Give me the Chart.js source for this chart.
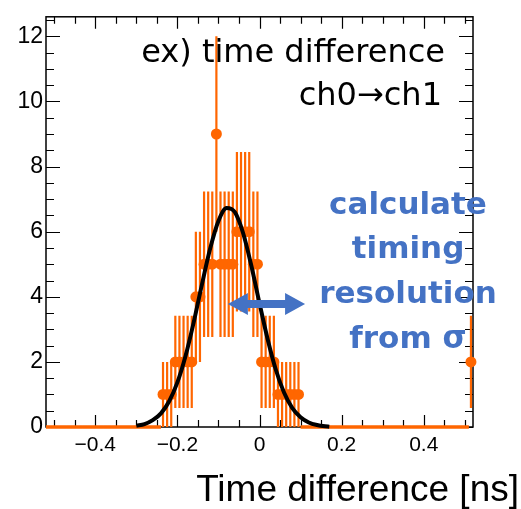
<!DOCTYPE html>
<html>
<head>
<meta charset="utf-8">
<script src="https://cdn.jsdelivr.net/npm/chart.js@4"></script>
<style>
  html, body { margin: 0; padding: 0; background: #fff; }
  #wrap { width: 521px; height: 509px; }
</style>
</head>
<body>
<div id="wrap"><canvas id="chart" width="521" height="509"></canvas></div>
<script>
// histogram: 104 bins of 0.01 ns from -0.52 to 0.52
const xRange = [-0.52, 0.52];
const binWidth = 0.01;
const counts = [
    0, 0, 0, 0, 0, 0, 0, 0, 0, 0,
    0, 0, 0, 0, 0, 0, 0, 0, 0, 0,
    0, 0, 0, 0, 0, 0, 0, 0, 1, 1,
    1, 2, 2, 2, 2, 2, 4, 4, 5, 5,
    5, 9, 5, 5, 5, 5, 6, 6, 6, 6,
    5, 5, 2, 2, 2, 2, 1, 1, 1, 1,
    1, 1, 0, 0, 0, 0, 0, 0, 0, 0,
    0, 0, 0, 0, 0, 0, 0, 0, 0, 0,
    0, 0, 0, 0, 0, 0, 0, 0, 0, 0,
    0, 0, 0, 0, 0, 0, 0, 0, 0, 0,
    0, 0, 0, 2
];

// gaussian fit curve
const curveX = [-0.30, -0.28, -0.26, -0.24, -0.22, -0.20, -0.18, -0.16, -0.14, -0.12,
                -0.10, -0.08, -0.06, -0.04, -0.02, 0.00, 0.02, 0.04, 0.06, 0.08,
                0.10, 0.12, 0.14, 0.16, 0.17];
const curveY = [0.04, 0.09, 0.21, 0.42, 0.79, 1.37, 2.19, 3.23, 4.39, 5.49,
                6.33, 6.73, 6.60, 5.96, 4.96, 3.80, 2.69, 1.75, 1.05, 0.58,
                0.30, 0.14, 0.06, 0.02, 0.01];

const xTickValues = [-0.4, -0.2, 0, 0.2, 0.4];
const yTickValues = [0, 2, 4, 6, 8, 10, 12];

const orange = '#ff6600';
const blue = '#4472c4';

// build the error bar / marker data from the counts
const centers = counts.map((c, i) => xRange[0] + binWidth * (i + 0.5));
const vertBars = [];
const horizBars = [];
const markers = [];
counts.forEach((c, i) => {
    const cx = centers[i];
    horizBars.push({ x: cx - binWidth / 2, y: c }, { x: cx + binWidth / 2, y: c }, { x: cx, y: null });
    if (c > 0) {
        const err = Math.sqrt(c);
        vertBars.push({ x: cx, y: c - err }, { x: cx, y: c + err }, { x: cx, y: null });
        markers.push({ x: cx, y: c });
    }
});

// ROOT style frame with inward ticks on all four sides
const framePlugin = {
    id: 'frame',
    beforeDatasetsDraw(chart) {
        const { ctx, chartArea: a, scales: { x, y } } = chart;
        ctx.save();
        ctx.strokeStyle = '#000';
        ctx.lineWidth = 1.5;
        ctx.strokeRect(a.left, a.top, a.right - a.left, a.bottom - a.top);
        ctx.lineWidth = 1.2;
        ctx.beginPath();
        for (let i = 0; i <= 25; i++) {
            const py = Math.round(y.getPixelForValue(i * 0.5)) + 0.5;
            const len = i % 4 === 0 ? 14 : 8;
            ctx.moveTo(a.left, py); ctx.lineTo(a.left + len, py);
            ctx.moveTo(a.right, py); ctx.lineTo(a.right - len, py);
        }
        for (let i = -10; i <= 10; i++) {
            const px = Math.round(x.getPixelForValue(i * 0.05)) + 0.5;
            const len = i % 4 === 0 ? 12 : 7;
            ctx.moveTo(px, a.bottom); ctx.lineTo(px, a.bottom - len);
            ctx.moveTo(px, a.top); ctx.lineTo(px, a.top + len);
        }
        ctx.stroke();
        ctx.restore();
    },
    afterDraw(chart) {
        const { ctx, scales: { x, y } } = chart;
        ctx.save();
        ctx.fillStyle = '#000';
        ctx.textBaseline = 'alphabetic';
        ctx.textAlign = 'right';
        ctx.font = '32px "DejaVu Sans"';
        ctx.fillText('ex) time difference', 445, 62);
        ctx.fillText('ch0\u2192ch1', 442, 105);

        ctx.font = '37px "Liberation Sans"';
        ctx.fillText('Time difference [ns]', 519, 501);

        ctx.fillStyle = blue;
        ctx.textAlign = 'center';
        ctx.font = 'bold 31px "DejaVu Sans"';
        ctx.fillText('calculate', 408, 214);
        ctx.fillText('timing', 408, 258);
        ctx.fillText('resolution', 408, 303);
        ctx.fillText('from \u03c3', 408, 348);

        // double headed arrow
        const x1 = x.getPixelForValue(-0.077);
        const x2 = x.getPixelForValue(0.111);
        const ay = y.getPixelForValue(3.78);
        const head = 20, hh = 11, sh = 4;
        ctx.beginPath();
        ctx.moveTo(x1, ay);
        ctx.lineTo(x1 + head, ay - hh);
        ctx.lineTo(x1 + head, ay - sh);
        ctx.lineTo(x2 - head, ay - sh);
        ctx.lineTo(x2 - head, ay - hh);
        ctx.lineTo(x2, ay);
        ctx.lineTo(x2 - head, ay + hh);
        ctx.lineTo(x2 - head, ay + sh);
        ctx.lineTo(x1 + head, ay + sh);
        ctx.lineTo(x1 + head, ay + hh);
        ctx.closePath();
        ctx.fill();
        ctx.restore();
    }
};

const ctx = document.getElementById('chart').getContext('2d');
new Chart(ctx, {
    type: 'line',
    data: {
        datasets: [
            {
                data: curveX.map((v, i) => ({ x: v, y: curveY[i] })),
                borderColor: '#000',
                borderWidth: 4,
                pointRadius: 0,
                cubicInterpolationMode: 'monotone',
                clip: false,
                order: 0
            },
            {
                data: markers,
                showLine: false,
                pointRadius: 5.5,
                pointBackgroundColor: orange,
                pointBorderWidth: 0,
                clip: false,
                order: 1
            },
            {
                data: vertBars,
                borderColor: orange,
                borderWidth: 2.2,
                borderCapStyle: 'butt',
                pointRadius: 0,
                spanGaps: false,
                clip: false,
                order: 2
            },
            {
                data: horizBars,
                borderColor: orange,
                borderWidth: 3.5,
                borderCapStyle: 'butt',
                pointRadius: 0,
                spanGaps: false,
                clip: false,
                order: 2
            }
        ]
    },
    options: {
        responsive: false,
        animation: false,
        devicePixelRatio: 1,
        layout: { padding: { left: 0, top: 8, right: 48, bottom: 0 } },
        plugins: {
            legend: { display: false },
            tooltip: { enabled: false }
        },
        scales: {
            x: {
                type: 'linear',
                min: xRange[0],
                max: xRange[1],
                grid: { display: false, drawTicks: false },
                border: { display: false },
                afterBuildTicks: scale => { scale.ticks = xTickValues.map(v => ({ value: v })); },
                afterFit: scale => { scale.height = 82; },
                ticks: {
                    color: '#000',
                    padding: 6,
                    autoSkip: false,
                    maxRotation: 0,
                    font: { family: 'Liberation Sans', size: 21 },
                    callback: v => v === 0 ? '0' : (v < 0 ? '\u2212' : '') + Math.abs(v).toFixed(1)
                }
            },
            y: {
                type: 'linear',
                min: 0,
                max: 12.6,
                grid: { display: false, drawTicks: false },
                border: { display: false },
                afterBuildTicks: scale => { scale.ticks = yTickValues.map(v => ({ value: v })); },
                afterFit: scale => { scale.width = 46; },
                ticks: {
                    color: '#000',
                    padding: 3,
                    font: { family: 'Liberation Sans', size: 23 }
                }
            }
        }
    },
    plugins: [framePlugin]
});
</script>
</body>
</html>
